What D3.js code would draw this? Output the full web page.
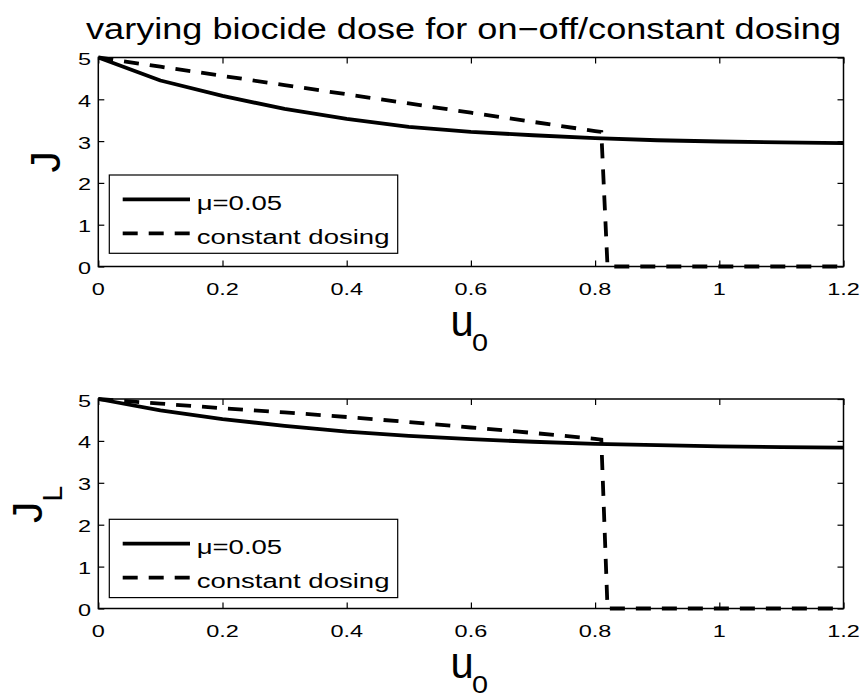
<!DOCTYPE html>
<html><head><meta charset="utf-8">
<script src="https://cdn.jsdelivr.net/npm/d3@7"></script>
<style>body{margin:0;background:#fff}text{font-family:"Liberation Sans",Arial,Helvetica,sans-serif;fill:#000}</style>
</head><body>
<svg id="c" width="861" height="698"></svg>
<script>
// ---- data ----
const uSolid = [0,0.1,0.2,0.3,0.4,0.5,0.6,0.7,0.8,0.9,1.0,1.1,1.2];
const Jsolid = [5,4.45,4.08,3.77,3.53,3.34,3.22,3.14,3.07,3.02,2.99,2.97,2.95];
const JLsolid = [5,4.73,4.52,4.36,4.22,4.12,4.04,3.98,3.93,3.90,3.87,3.85,3.84];
const uDash = [0,0.1,0.2,0.3,0.4,0.5,0.6,0.7,0.8,0.81,0.82,0.9,1.0,1.1,1.2];
const Jdash = [5,4.78,4.56,4.34,4.12,3.90,3.68,3.46,3.24,3.22,0,0,0,0,0];
const JLdash = [5,4.89,4.78,4.68,4.57,4.45,4.32,4.19,4.05,4.03,0,0,0,0,0];
const xTicks = [0,0.2,0.4,0.6,0.8,1,1.2];
const yTicks = [0,1,2,3,4,5];
const legendLabels = ["μ=0.05","constant dosing"];
const titleText = "varying biocide dose for on−off/constant dosing";

// ---- layout ----
const svg = d3.select("#c");
const X0 = 98.3, X1 = 843.5;
const panels = [
  {top:57.5, bottom:266.5, solid:Jsolid, dash:Jdash, ylab:"J", sub:null, legTop:175},
  {top:399, bottom:608.5, solid:JLsolid, dash:JLdash, ylab:"J", sub:"L", legTop:519.3}
];
const LW = 3.8, DASH = "15,11";

function txt(parent, s, x, y, o) {
  const g = parent.append("g").attr("transform",
    `translate(${x},${y})` + (o.rotate ? ` rotate(${o.rotate})` : "") + ` scale(${o.sx||1},${o.sy||1})`);
  const t = g.append("text").attr("font-size", o.size).attr("text-anchor", o.anchor || "start").text(s);
  return t;
}

// title
svg.append("text").attr("x", 86).attr("y", 39).attr("font-size", 29.5)
  .attr("textLength", 755).attr("lengthAdjust", "spacingAndGlyphs").text(titleText);

const x = d3.scaleLinear().domain([0,1.2]).range([X0, X1]);

panels.forEach((p, i) => {
  const y = d3.scaleLinear().domain([0,5]).range([p.bottom, p.top]);
  const g = svg.append("g");
  const tk = 6;
  g.append("g").attr("transform", `translate(0,${p.bottom})`)
    .call(d3.axisBottom(x).tickValues(xTicks).tickSizeInner(-tk).tickSizeOuter(0).tickFormat(""));
  g.append("g").attr("transform", `translate(0,${p.top})`)
    .call(d3.axisTop(x).tickValues(xTicks).tickSizeInner(-tk).tickSizeOuter(0).tickFormat(""));
  g.append("g").attr("transform", `translate(${X0},0)`)
    .call(d3.axisLeft(y).tickValues(yTicks).tickSizeInner(-tk).tickSizeOuter(0).tickFormat(""));
  g.append("g").attr("transform", `translate(${X1},0)`)
    .call(d3.axisRight(y).tickValues(yTicks).tickSizeInner(-tk).tickSizeOuter(0).tickFormat(""));
  g.selectAll(".domain").remove();
  g.selectAll(".tick line").attr("stroke", "#000").attr("stroke-width", 1.2);

  xTicks.forEach(v => txt(g, String(v), x(v), p.bottom + 28.5, {size:17, sx:1.38, anchor:"middle"}));
  yTicks.forEach(v => txt(g, String(v), 91, y(v) + 7.5, {size:17, sx:1.38, anchor:"end"}));

  const line = d3.line().x(d => x(d[0])).y(d => y(d[1]));
  g.append("path").datum(uSolid.map((u, k) => [u, p.solid[k]]))
    .attr("d", line).attr("fill", "none").attr("stroke", "#000").attr("stroke-width", LW)
    .attr("stroke-linejoin", "round");
  g.append("path").datum(uDash.map((u, k) => [u, p.dash[k]]))
    .attr("d", line).attr("fill", "none").attr("stroke", "#000").attr("stroke-width", LW)
    .attr("stroke-dasharray", DASH);

  g.append("rect").attr("x", X0).attr("y", p.top).attr("width", X1 - X0).attr("height", p.bottom - p.top)
    .attr("fill", "none").attr("stroke", "#000").attr("stroke-width", 1.5);

  const lg = g.append("g");
  const lt = p.legTop;
  lg.append("rect").attr("x", 109.3).attr("y", lt).attr("width", 288.4).attr("height", 78.3)
    .attr("fill", "#fff").attr("stroke", "#000").attr("stroke-width", 1.2);
  legendLabels.forEach((lab, k) => {
    const ly = lt + 24.3 + k * 34;
    lg.append("line").attr("x1", 122.7).attr("x2", 190).attr("y1", ly).attr("y2", ly)
      .attr("stroke", "#000").attr("stroke-width", LW).attr("stroke-dasharray", k === 1 ? DASH : null);
    txt(lg, lab, 196.7, ly + 10.6, {size:19.8, sx:1.39});
  });

  if (p.sub) {
    const t = txt(g, p.ylab, 41.7, 523, {size:43, rotate:-90});
    t.append("tspan").attr("font-size", 28).attr("dy", 20).text(p.sub);
  } else {
    txt(g, p.ylab, 60, 172.5, {size:43, rotate:-90});
  }
  const ub = p.bottom + 69.5;
  txt(g, "u", 450.5, ub, {size:44, sx:0.95});
  txt(g, "0", 472, ub + 15, {size:24, sx:1.2});
});
</script>
</body></html>
